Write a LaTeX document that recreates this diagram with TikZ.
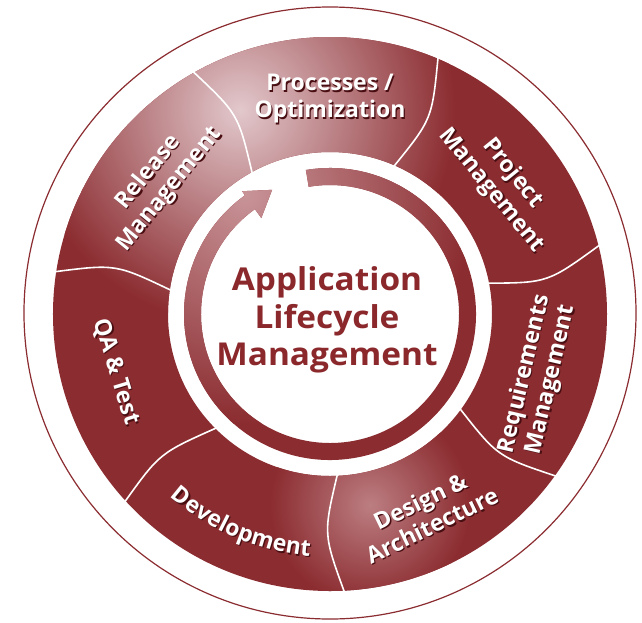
\documentclass[tikz,border=0pt]{standalone}
\usepackage{fontspec}
\setmainfont{Open Sans}
\newfontfamily\titlefont[FakeStretch=1.06]{Open Sans}
\usetikzlibrary{calc,decorations.text}
\definecolor{base}{RGB}{139,44,48}
\definecolor{hl}{RGB}{226,200,204}
\definecolor{hltwo}{RGB}{188,126,130}
\definecolor{arrowhl}{RGB}{200,148,152}
\definecolor{shadowc}{RGB}{72,14,18}
\definecolor{ctext}{RGB}{139,40,44}
\tikzset{
 sepline/.style={draw=white, line width=1.6pt},
 lab/.style={text=white, font=\bfseries\fontsize{23}{27}\selectfont, align=center, inner sep=0pt},
 labsh/.style={lab, text=shadowc},
 centertext/.style={text=ctext, font=\titlefont\bfseries\fontsize{31.5}{37.5}\selectfont, align=center, inner sep=0pt},
}
\newcommand\sepcurve[2]{\draw[sepline] (#1:160pt) .. controls ({(#1+#2)/2-4.6}:220pt) .. (#2:279pt);}
\newcommand\seglabel[4]{\node[labsh, rotate=#3] (#1s) at ($(#2)+(1.3,-1.3)$) {#4};\node[lab, rotate=#3] (#1) at (#2) {#4};}
\begin{document}
\begin{tikzpicture}[x=1pt,y=1pt]
\useasboundingbox (-330,-308) rectangle (312,314);
\fill[white] (-330,-308) rectangle (312,314);
% outer thin circle
\draw[base, line width=1.2pt] (0,1) circle[radius=306pt];
% ring of segments
\fill[base, even odd rule] (0,0) circle[radius=277pt] (0,0) circle[radius=162pt];
\begin{scope}
\clip (0,0) circle[radius=277pt];
\begin{scope}[even odd rule]
\clip (-300,-300) rectangle (300,300) (0,0) circle[radius=162pt];
\shade[inner color=hl, outer color=base] (-90,204) circle[radius=215pt];
\shade[inner color=hltwo, outer color=base] (40,-191) circle[radius=100pt];
\end{scope}
\end{scope}
% separators
\sepcurve{119}{119.5}
\sepcurve{171.6}{171.3}
\sepcurve{225.2}{222.5}
\sepcurve{272.7}{273}
\sepcurve{324}{324.4}
\sepcurve{11.1}{14.4}
\sepcurve{66.7}{67.2}
% cycle arrow
\begin{scope}
\clip (99.5:146pt) arc[start angle=99.5, end angle=-234.4, radius=146pt] -- (125.6:151pt) -- (115:137pt) -- (125.6:118pt) -- (-234.4:129pt) arc[start angle=-234.4, end angle=99.5, radius=129pt] -- cycle;
\fill[base] (-160,-160) rectangle (160,160);
\shade[inner color=arrowhl, outer color=base] (-85,120) circle[radius=230pt];
\end{scope}
% centre title
\node[centertext] (title) at (-3,-6) {Application\\Lifecycle\\Management};
% labels (dark shadow under white text)
\seglabel{proc}{0,215}{0}{Processes /\\Optimization}
\seglabel{rel}{-171,133}{51}{Release\\Management}
\seglabel{proj}{172,132}{-51}{Project\\Management}
\seglabel{req}{208,-63}{77}{Requirements\\Management}
\seglabel{des}{96,-199}{26}{Design \&\\Architecture}
\seglabel{qa}{-214,-58}{-73}{QA \& Test}
\path[decorate, decoration={text along path, text={|\bfseries\fontsize{23}{27}\selectfont|Development}, text align=center, text color=shadowc}, shift={(1.3,-1.3)}] (225:243pt) arc[start angle=225, end angle=269, radius=243pt];
\path[decorate, decoration={text along path, text={|\bfseries\fontsize{23}{27}\selectfont|Development}, text align=center, text color=white}] (225:243pt) arc[start angle=225, end angle=269, radius=243pt];
\end{tikzpicture}
\end{document}
